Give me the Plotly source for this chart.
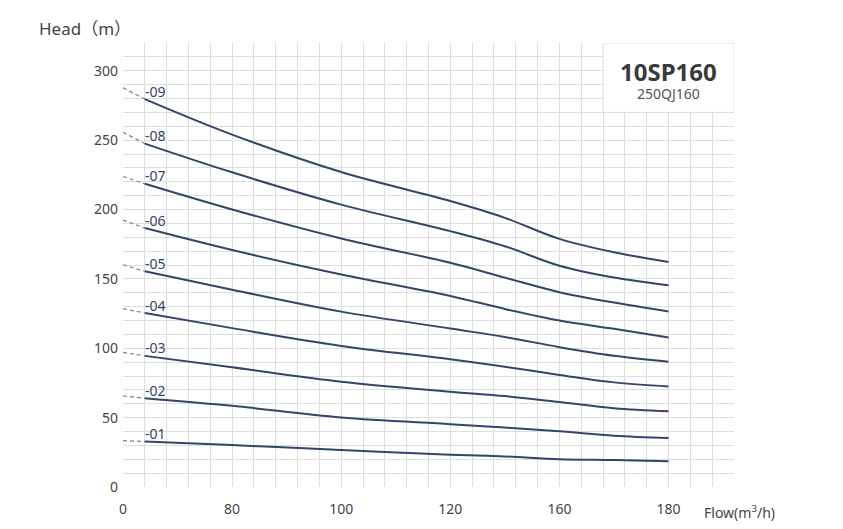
import plotly.graph_objects as go

# axis positions (major tick index units) and tick labels as printed on the chart
x_tick_pos = [0, 1, 2, 3, 4, 5]
x_tick_text = ["0", "80", "100", "120", "160", "180"]
y_tick_vals = [0, 50, 100, 150, 200, 250, 300]

# sample positions along the flow axis (in tick-index units)
x_pos = [0.2, 1.0, 2.0, 3.0, 3.5, 4.0, 4.5, 5.0]

stage_labels = ["-09", "-08", "-07", "-06", "-05", "-04", "-03", "-02", "-01"]

head_09 = [279.6, 254.0, 227.0, 206.1, 194.0, 178.8, 169.2, 162.2]
head_08 = [247.5, 226.8, 203.5, 184.4, 173.5, 159.5, 151.0, 145.4]
head_07 = [218.5, 200.0, 179.1, 161.6, 150.9, 140.4, 132.9, 126.5]
head_06 = [186.6, 170.8, 153.2, 137.7, 128.3, 120.0, 114.0, 107.8]
head_05 = [155.5, 142.2, 126.4, 114.2, 108.1, 100.8, 94.6, 90.3]
head_04 = [125.4, 114.5, 101.7, 92.1, 86.7, 80.8, 75.4, 72.5]
head_03 = [94.5, 86.3, 75.9, 68.7, 65.5, 61.2, 56.8, 54.6]
head_02 = [64.0, 58.5, 50.1, 45.3, 42.8, 40.2, 37.0, 35.3]
head_01 = [32.8, 30.2, 26.7, 23.3, 22.0, 20.0, 19.4, 18.5]

heads = [head_09, head_08, head_07, head_06, head_05, head_04, head_03, head_02, head_01]

# heads at the zero-flow axis for the dashed extensions
head_at_zero = [287.7, 255.6, 223.8, 192.4, 160.2, 128.5, 97.0, 65.6, 33.4]

model_name = "10SP160"
model_alt = "250QJ160"

curve_color = "#33456b"
grid_color = "#dedede"
font_family = "Noto Sans, Noto Sans CJK SC, sans-serif"

fig = go.Figure()

for lab, h, h0 in zip(stage_labels, heads, head_at_zero):
    fig.add_trace(go.Scatter(
        x=[0, x_pos[0]], y=[h0, h[0]], mode="lines",
        line=dict(color="#808080", width=1.2, dash="4px,3px"),
        hoverinfo="skip", showlegend=False))
    fig.add_trace(go.Scatter(
        x=x_pos, y=h, mode="lines", name=lab,
        line=dict(color=curve_color, width=2, shape="spline", smoothing=1.0),
        showlegend=False))
    fig.add_annotation(
        x=x_pos[0], y=h[0], text=lab, showarrow=False,
        xanchor="left", yanchor="middle", xshift=-2, yshift=8,
        font=dict(family=font_family, size=14, color=curve_color))

# model box in the upper-right corner
fig.add_shape(type="rect", xref="x", yref="y", x0=4.4, x1=5.6, y0=270, y1=320,
              fillcolor="white", line=dict(color="#dcdcdc", width=1), layer="above")
fig.add_annotation(
    x=5.0, y=294, xref="x", yref="y",
    text=("<span style='font-size:24px;color:#3a3a3a'><b>" + model_name + "</b></span>"
          "<br>" + model_alt),
    showarrow=False, align="center",
    font=dict(family=font_family, size=14, color="#555555"))

# axis titles (pixel positions converted to paper coordinates below)
fig.add_annotation(x=37, y=28, xref="paper", yref="paper", text="Head（m）",
                   showarrow=False, xanchor="left", yanchor="middle",
                   font=dict(family=font_family, size=17, color="#444444"))
fig.add_annotation(x=702, y=512, xref="paper", yref="paper", text="Flow(m<sup>3</sup>/h)",
                   showarrow=False, xanchor="left", yanchor="middle",
                   font=dict(family=font_family, size=14, color="#444444"))

W, H = 843, 529
ml, mr, mt, mb = 123, 109, 43, 42

for ann in fig.layout.annotations:
    if ann.xref == "paper":
        ann.x = (ann.x - ml) / (W - ml - mr)
        ann.y = 1 - (ann.y - mt) / (H - mt - mb)

fig.update_layout(
    width=W, height=H,
    margin=dict(l=ml, r=mr, t=mt, b=mb),
    paper_bgcolor="white", plot_bgcolor="white",
    font=dict(family=font_family, size=14, color="#444444"),
    xaxis=dict(range=[0, 5.6], tickvals=x_tick_pos, ticktext=x_tick_text,
               showgrid=True, gridcolor=grid_color, gridwidth=1,
               minor=dict(dtick=0.2, showgrid=True, gridcolor=grid_color, gridwidth=1),
               zeroline=False, showline=False, ticks="", ticklabelstandoff=12,
               fixedrange=True),
    yaxis=dict(range=[0, 320], tickvals=y_tick_vals,
               showgrid=True, gridcolor=grid_color, gridwidth=1,
               minor=dict(dtick=10, showgrid=True, gridcolor=grid_color, gridwidth=1),
               zeroline=False, showline=False, ticks="", ticklabelstandoff=4,
               fixedrange=True),
)

fig.write_html("out.html")
